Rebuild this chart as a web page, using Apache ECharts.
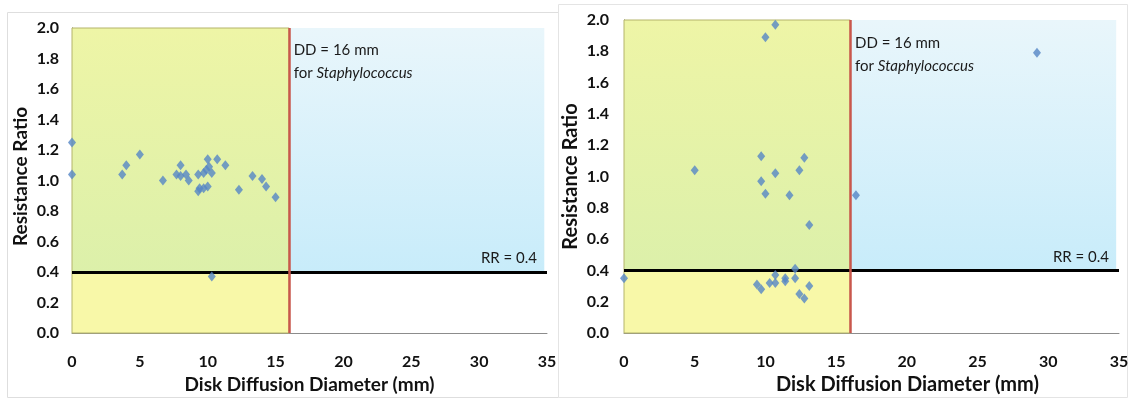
<!DOCTYPE html>
<html><head><meta charset="utf-8">
<script src="https://cdn.jsdelivr.net/npm/echarts@6/dist/echarts.min.js"></script>
<style>html,body{margin:0;padding:0;background:#fff}#c{width:1132px;height:400px}</style>
</head><body><div id="c"></div>
<script>
// ---- data ----
const leftX = [0, 0, 3.7, 4.0, 5.0, 6.7, 7.7, 8.0, 8.0, 8.4, 8.6, 9.3, 9.3, 9.4, 9.7, 10.0, 9.7, 9.9, 10.1, 10.0, 10.3, 10.7, 11.3, 12.3, 13.3, 14.0, 14.3, 15.0, 10.3];
const leftY = [1.25, 1.04, 1.04, 1.10, 1.17, 1.00, 1.04, 1.10, 1.03, 1.04, 1.00, 1.04, 0.93, 0.95, 0.95, 0.96, 1.05, 1.07, 1.09, 1.14, 1.05, 1.14, 1.10, 0.94, 1.03, 1.01, 0.96, 0.89, 0.37];
const rightX = [10.7, 10.0, 9.7, 12.75, 5.0, 10.7, 12.4, 9.7, 10.0, 11.7, 13.1, 16.4, 0, 9.4, 9.7, 10.3, 10.7, 10.7, 11.4, 11.4, 12.1, 12.1, 12.4, 12.75, 13.1, 29.2];
const rightY = [1.97, 1.89, 1.13, 1.12, 1.04, 1.02, 1.04, 0.97, 0.89, 0.88, 0.69, 0.88, 0.35, 0.31, 0.28, 0.32, 0.37, 0.32, 0.35, 0.33, 0.41, 0.35, 0.25, 0.22, 0.30, 1.79];
const xTicks = [0, 5, 10, 15, 20, 25, 30, 35];
const yTicks = [0.0, 0.2, 0.4, 0.6, 0.8, 1.0, 1.2, 1.4, 1.6, 1.8, 2.0];
const ddCut = 16;      // disk diffusion threshold (mm)
const rrCut = 0.4;     // resistance ratio threshold
const xMax = 35, yMax = 2.0;
const ddText1 = 'DD = 16 mm', ddText2a = 'for ', ddText2b = 'Staphylococcus';
const rrText = 'RR = 0.4';
const xTitle = 'Disk Diffusion Diameter (mm)', yTitle = 'Resistance Ratio';

const FONT = 'Lato';
const chart = echarts.init(document.getElementById('c'));
const G = echarts.graphic.LinearGradient;

function pts(xs, ys) { return xs.map((x, i) => [x, ys[i]]); }

function xAxis(idx, fs, tfs, pad) {
  return {
    type: 'value', gridIndex: idx, min: 0, max: xMax, interval: 5,
    axisLine: { show: true, lineStyle: { color: '#8c8c8c', width: 1 } },
    axisTick: { show: false }, splitLine: { show: false },
    axisLabel: { color: '#111', fontFamily: FONT, fontWeight: 'bold', fontSize: fs, margin: 21,
      formatter: v => xTicks.includes(v) ? String(v) : '' },
    name: xTitle, nameLocation: 'middle', nameGap: 40,
    nameTextStyle: { color: '#111', fontFamily: FONT, fontWeight: 'bold', fontSize: tfs, padding: pad }
  };
}
function yAxis(idx, fs, tfs, gap, margin, pad) {
  return {
    type: 'value', gridIndex: idx, min: 0, max: yMax, interval: 0.2,
    axisLine: { show: true, lineStyle: { color: '#4a4a30', width: 1 } },
    axisTick: { show: false }, splitLine: { show: false },
    axisLabel: { color: '#111', fontFamily: FONT, fontWeight: 'bold', fontSize: fs, margin: margin,
      formatter: v => yTicks.some(t => Math.abs(t - v) < 1e-6) ? v.toFixed(1) : '' },
    name: yTitle, nameLocation: 'middle', nameGap: gap,
    nameTextStyle: { color: '#111', fontFamily: FONT, fontWeight: 'bold', fontSize: tfs, padding: pad }
  };
}
function series(idx, data) {
  return {
    type: 'scatter', xAxisIndex: idx, yAxisIndex: idx, data: data,
    symbol: 'diamond', symbolSize: [8, 10],
    itemStyle: { color: '#5586c6' }, z: 5,
    markArea: {
      silent: true,
      data: [
        [{ coord: [0, rrCut], itemStyle: { color: new G(0, 0, 0, 1, [{ offset: 0, color: '#eef5a6' }, { offset: 1, color: '#dcf0aa' }]), borderColor: '#b4b46a', borderWidth: 1 } }, { coord: [ddCut, yMax] }],
        [{ coord: [0, 0], itemStyle: { color: '#f8f8a8', borderColor: '#b4b46a', borderWidth: 1 } }, { coord: [ddCut, rrCut] }],
        [{ coord: [ddCut, rrCut], itemStyle: { color: new G(0, 0, 0, 1, [{ offset: 0, color: '#e9f6fb' }, { offset: 1, color: '#c8ecfa' }]) } }, { coord: [xMax - 0.2, yMax] }]
      ]
    },
    markLine: {
      silent: true, symbol: 'none', animation: false,
      data: [
        { yAxis: rrCut, lineStyle: { color: '#000', width: 3, type: 'solid' },
          label: { show: true, position: 'insideEndTop', formatter: rrText, color: '#1a1a1a', fontFamily: FONT, fontSize: 15, distance: [10, 6] } },
        [{ coord: [ddCut, 0], lineStyle: { color: '#c9574c', width: 2.5, type: 'solid' }, label: { show: false } }, { coord: [ddCut, yMax] }]
      ]
    },
    markPoint: {
      silent: true, animation: false,
      data: [{ coord: [ddCut + 0.3, 1.78], symbol: 'circle', symbolSize: 1, itemStyle: { color: 'rgba(0,0,0,0)' },
        label: { show: true, position: 'right', distance: 0, color: '#1a1a1a', fontFamily: FONT, fontSize: 15, lineHeight: 23,
          formatter: '{a|' + ddText1 + '}\n{a|' + ddText2a + '}{b|' + ddText2b + '}',
          rich: { a: { fontFamily: FONT, fontSize: 15, lineHeight: 23, color: '#1a1a1a' }, b: { fontFamily: FONT, fontSize: 15, fontStyle: 'italic', lineHeight: 23, color: '#1a1a1a' } } } }]
    }
  };
}

chart.setOption({
  animation: false,
  backgroundColor: '#fff',
  graphic: [
    { type: 'rect', shape: { x: 7.5, y: 12.5, width: 551, height: 385 }, style: { fill: 'none', stroke: '#dedede', lineWidth: 1 }, z: -10 },
    { type: 'rect', shape: { x: 558.5, y: 4.5, width: 569, height: 393 }, style: { fill: 'none', stroke: '#e4e4e4', lineWidth: 1 }, z: -10 }
  ],
  grid: [
    { left: 72, top: 28, width: 475, height: 305, containLabel: false },
    { left: 624, top: 20, width: 495, height: 313, containLabel: false }
  ],
  xAxis: [xAxis(0, 16, 19, [0, 0, 0, 0]), xAxis(1, 16, 20, [0, 0, 0, 72])],
  yAxis: [yAxis(0, 16, 19, 42, 13, [0, 0, 0, 8]), yAxis(1, 16, 20, 43, 15, [0, 0, 0, 0])],
  series: [series(0, pts(leftX, leftY)), series(1, pts(rightX, rightY))]
});
</script></body></html>
